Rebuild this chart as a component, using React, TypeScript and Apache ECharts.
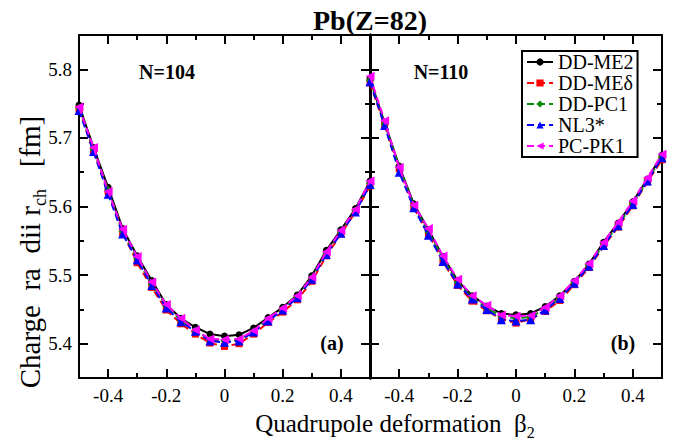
import React, { useEffect, useRef } from "react";
import * as echarts from "echarts";

const beta = [-0.5, -0.45, -0.4, -0.35, -0.3, -0.25, -0.2, -0.15, -0.1, -0.05, 0, 0.05, 0.1, 0.15, 0.2, 0.25, 0.3, 0.35, 0.4, 0.45, 0.5];

const seriesNames = ["DD-ME2", "DD-MEδ", "DD-PC1", "NL3*", "PC-PK1"];

// N = 104
const me2_104 = [5.748, 5.686, 5.628, 5.568, 5.528, 5.492, 5.457, 5.437, 5.424, 5.414, 5.411, 5.413, 5.423, 5.438, 5.453, 5.471, 5.499, 5.536, 5.566, 5.597, 5.637];
const med_104 = [5.742, 5.680, 5.622, 5.562, 5.518, 5.482, 5.449, 5.429, 5.414, 5.401, 5.396, 5.400, 5.414, 5.431, 5.446, 5.464, 5.491, 5.528, 5.560, 5.592, 5.630];
const pc1_104 = [5.744, 5.683, 5.624, 5.564, 5.524, 5.487, 5.455, 5.434, 5.419, 5.406, 5.404, 5.405, 5.418, 5.435, 5.451, 5.468, 5.496, 5.532, 5.563, 5.594, 5.634];
const nl3_104 = [5.740, 5.680, 5.618, 5.560, 5.522, 5.485, 5.452, 5.432, 5.418, 5.404, 5.402, 5.404, 5.417, 5.433, 5.449, 5.467, 5.494, 5.530, 5.561, 5.592, 5.632];
const pk1_104 = [5.745, 5.686, 5.622, 5.567, 5.527, 5.490, 5.457, 5.437, 5.420, 5.407, 5.406, 5.407, 5.419, 5.437, 5.452, 5.470, 5.497, 5.534, 5.565, 5.596, 5.637];

// N = 110
const me2_110 = [5.786, 5.722, 5.659, 5.604, 5.566, 5.527, 5.492, 5.470, 5.455, 5.444, 5.442, 5.444, 5.454, 5.470, 5.491, 5.516, 5.548, 5.576, 5.607, 5.640, 5.675];
const med_110 = [5.780, 5.718, 5.655, 5.598, 5.560, 5.520, 5.485, 5.462, 5.448, 5.436, 5.430, 5.436, 5.447, 5.463, 5.486, 5.511, 5.542, 5.570, 5.601, 5.636, 5.668];
const pc1_110 = [5.784, 5.720, 5.657, 5.601, 5.563, 5.524, 5.489, 5.467, 5.452, 5.440, 5.437, 5.439, 5.451, 5.467, 5.489, 5.514, 5.545, 5.573, 5.604, 5.638, 5.672];
const nl3_110 = [5.782, 5.718, 5.650, 5.598, 5.558, 5.520, 5.487, 5.465, 5.450, 5.435, 5.433, 5.435, 5.449, 5.466, 5.488, 5.513, 5.543, 5.572, 5.603, 5.637, 5.671];
const pk1_110 = [5.790, 5.725, 5.657, 5.602, 5.568, 5.528, 5.494, 5.470, 5.456, 5.442, 5.440, 5.441, 5.453, 5.470, 5.492, 5.517, 5.548, 5.577, 5.608, 5.642, 5.676];

const panel104 = [me2_104, med_104, pc1_104, nl3_104, pk1_104];
const panel110 = [me2_110, med_110, pc1_110, nl3_110, pk1_110];

const xMajor = [-0.4, -0.2, 0, 0.2, 0.4];
const xMinor = [-0.3, -0.1, 0.1, 0.3];
const yMajor = [5.4, 5.5, 5.6, 5.7, 5.8];
const yMinor = [5.45, 5.55, 5.65, 5.75];

const FONT = "Liberation Serif";

const styles = [
  { color: "#000000", symbol: "circle", size: 7, dash: "solid", rotate: 0 },
  { color: "#ff0000", symbol: "rect", size: 7, dash: [7, 4], rotate: 0 },
  { color: "#0a8a0a", symbol: "diamond", size: 8, dash: [7, 4], rotate: 0 },
  { color: "#0000ff", symbol: "triangle", size: 9, dash: [7, 4], rotate: 0 },
  { color: "#ff00ff", symbol: "triangle", size: 9, dash: [7, 4], rotate: 90 },
];

export default function App() {
  const ref = useRef<HTMLDivElement>(null);
  useEffect(() => {
    if (!ref.current) return;
    const chart = echarts.init(ref.current, undefined, { renderer: "svg" });

    const lineS = { color: "#000", width: 2 };
    const labelFont = { fontSize: 19, fontFamily: FONT, color: "#000" };
    const xAxes: any[] = [];
    const yAxes: any[] = [];
    for (let g = 0; g < 2; g++) {
      const base = { gridIndex: g, type: "value", min: -0.5, max: 0.5, splitLine: { show: false } };
      xAxes.push({
        ...base, position: "bottom",
        axisLine: { show: true, onZero: false, lineStyle: lineS },
        axisTick: { show: true, inside: true, length: 9, customValues: xMajor, lineStyle: lineS },
        axisLabel: { show: true, customValues: xMajor, formatter: (v: number) => (v === 0 ? "0" : String(v)), margin: 8, ...labelFont },
      });
      xAxes.push({
        ...base, position: "bottom",
        axisLine: { show: false, onZero: false },
        axisTick: { show: true, inside: true, length: 5, customValues: xMinor, lineStyle: lineS },
        axisLabel: { show: false },
      });
      xAxes.push({
        ...base, position: "top",
        axisLine: { show: true, onZero: false, lineStyle: lineS },
        axisTick: { show: true, inside: true, length: 9, customValues: xMajor, lineStyle: lineS },
        axisLabel: { show: false },
      });
      xAxes.push({
        ...base, position: "top",
        axisLine: { show: false, onZero: false },
        axisTick: { show: true, inside: true, length: 5, customValues: xMinor, lineStyle: lineS },
        axisLabel: { show: false },
      });
      const yb = { gridIndex: g, type: "value", min: 5.35, max: 5.85, splitLine: { show: false } };
      yAxes.push({
        ...yb, position: "left",
        axisLine: { show: true, onZero: false, lineStyle: { color: "#000", width: g === 1 ? 3 : 2 } },
        axisTick: { show: true, inside: true, length: 9, customValues: yMajor, lineStyle: lineS },
        axisLabel: { show: g === 0, customValues: yMajor, formatter: (v: number) => v.toFixed(1), margin: 7, ...labelFont },
      });
      yAxes.push({
        ...yb, position: "left",
        axisLine: { show: false, onZero: false },
        axisTick: { show: true, inside: true, length: 5, customValues: yMinor, lineStyle: lineS },
        axisLabel: { show: false },
      });
      yAxes.push({
        ...yb, position: "right",
        axisLine: { show: true, onZero: false, lineStyle: { color: "#000", width: g === 0 ? 3 : 2 } },
        axisTick: { show: true, inside: true, length: 9, customValues: yMajor, lineStyle: lineS },
        axisLabel: { show: false },
      });
      yAxes.push({
        ...yb, position: "right",
        axisLine: { show: false, onZero: false },
        axisTick: { show: true, inside: true, length: 5, customValues: yMinor, lineStyle: lineS },
        axisLabel: { show: false },
      });
    }

    const series: any[] = [];
    [panel104, panel110].forEach((panel, g) => {
      panel.forEach((vals, i) => {
        const s = styles[i];
        series.push({
          type: "line",
          name: seriesNames[i],
          xAxisIndex: g * 4,
          yAxisIndex: g * 4,
          data: beta.map((b, k) => [b, vals[k]]),
          symbol: s.symbol,
          symbolSize: s.size,
          symbolRotate: s.rotate,
          showAllSymbol: true,
          clip: false,
          lineStyle: { color: s.color, width: 2, type: s.dash },
          itemStyle: { color: s.color },
          z: 2 + i,
        });
      });
    });

    const textStyleM = { fontSize: 25, fontFamily: FONT, color: "#000", lineHeight: 27, verticalAlign: "top" };
    const subStyle = { fontSize: 16, fontFamily: FONT, color: "#000", lineHeight: 16, verticalAlign: "top", padding: [14, 0, 0, 0] };

    chart.setOption({
      animation: false,
      backgroundColor: "#ffffff",
      textStyle: { fontFamily: FONT },
      grid: [
        { left: 79, top: 35, width: 291, height: 343, containLabel: false },
        { left: 370, top: 35, width: 292, height: 343, containLabel: false },
      ],
      xAxis: xAxes,
      yAxis: yAxes,
      legend: {
        data: seriesNames,
        orient: "vertical",
        left: 522,
        top: 51,
        borderColor: "#000",
        borderWidth: 2,
        padding: [1, 4, 1, 4],
        itemGap: 1,
        itemWidth: 26,
        itemHeight: 9,
        backgroundColor: "#fff",
        textStyle: { fontSize: 20, fontFamily: FONT, color: "#000", lineHeight: 19 },
      },
      graphic: [
        { type: "text", x: 370, y: 20, style: { text: "Pb(Z=82)", fontSize: 28, fontWeight: "bold", fontFamily: FONT, fill: "#000", align: "center", verticalAlign: "middle" } },
        { type: "text", x: 167, y: 72, style: { text: "N=104", fontSize: 20, fontWeight: "bold", fontFamily: FONT, fill: "#000", align: "center", verticalAlign: "middle" } },
        { type: "text", x: 441, y: 72, style: { text: "N=110", fontSize: 20, fontWeight: "bold", fontFamily: FONT, fill: "#000", align: "center", verticalAlign: "middle" } },
        { type: "text", x: 332, y: 343, style: { text: "(a)", fontSize: 20, fontWeight: "bold", fontFamily: FONT, fill: "#000", align: "center", verticalAlign: "middle" } },
        { type: "text", x: 623, y: 343, style: { text: "(b)", fontSize: 20, fontWeight: "bold", fontFamily: FONT, fill: "#000", align: "center", verticalAlign: "middle" } },
        {
          type: "text", x: 395, y: 424,
          style: {
            text: "{m|Quadrupole deformation  β}{sub|2}",
            align: "center", verticalAlign: "middle",
            rich: { m: textStyleM, sub: subStyle },
          },
        },
        {
          type: "text", x: 30, y: 252, rotation: Math.PI / 2,
          style: {
            text: "{m|Charge  ra  dii r}{sub|ch}{m|   [fm]}",
            align: "center", verticalAlign: "middle",
            rich: { m: { ...textStyleM, fontSize: 29, lineHeight: 29 }, sub: { ...subStyle, fontSize: 18, padding: [15, 0, 0, 0] } },
          },
        },
      ],
      series,
    });
    return () => chart.dispose();
  }, []);
  return (
    <>
      <style>{`.chart-root svg text { font-family: "Liberation Serif", serif !important; }`}</style>
      <div ref={ref} className="chart-root" style={{ position: "fixed", left: 0, top: 0, width: 683, height: 444, background: "#fff" }} />
    </>
  );
}
